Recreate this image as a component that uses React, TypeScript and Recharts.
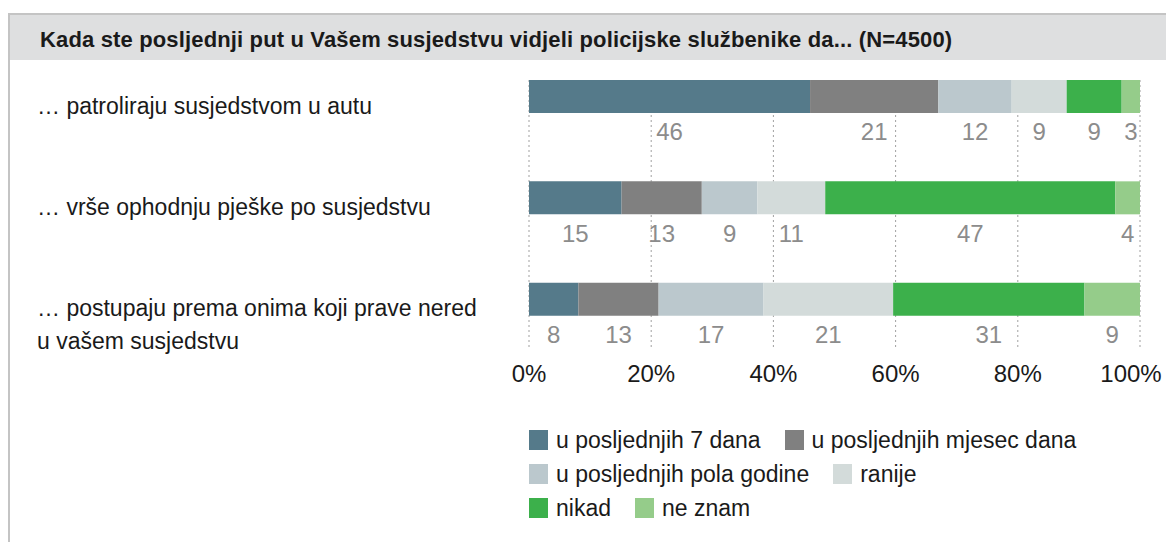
import React from "react";
import { BarChart, Bar, XAxis, YAxis, CartesianGrid, LabelList } from "recharts";

const categories = [
  "… patroliraju susjedstvom u autu",
  "… vrše ophodnju pješke po susjedstvu",
  "… postupaju prema onima koji prave nered\nu vašem susjedstvu",
];

const seriesNames = [
  "u posljednjih 7 dana",
  "u posljednjih mjesec dana",
  "u posljednjih pola godine",
  "ranije",
  "nikad",
  "ne znam",
];
const seriesColors = ["#557a8a", "#808080", "#bbc8cd", "#d3dbda", "#3cb04b", "#95cc8a"];

const sedamDana = [46, 15, 8];
const mjesecDana = [21, 13, 13];
const polaGodine = [12, 9, 17];
const ranije = [9, 11, 21];
const nikad = [9, 47, 31];
const neZnam = [3, 4, 9];

const xTicks = [0, 0.2, 0.4, 0.6, 0.8, 1];

const seriesValues = [sedamDana, mjesecDana, polaGodine, ranije, nikad, neZnam];
const keys = ["s0", "s1", "s2", "s3", "s4", "s5"];

const data = categories.map((name, i) => {
  const row: any = { name };
  keys.forEach((k, j) => (row[k] = seriesValues[j][i]));
  return row;
});

const FONT = "'Liberation Sans', Arial, sans-serif";

const CategoryTick = (props: any) => {
  const { y, payload } = props;
  const lines = String(payload.value).split("\n");
  return (
    <text x={37} y={y + 11} fontSize={23} fill="#1a1a1a" fontFamily={FONT} dominantBaseline="middle">
      {lines.map((l, i) => (
        <tspan key={i} x={37} dy={i === 0 ? 0 : 33}>
          {l}
        </tspan>
      ))}
    </text>
  );
};

const PercentTick = (props: any) => {
  const { x, y, payload } = props;
  // keep the last label inside the frame
  const dx = payload.value === 1 ? -9 : 0;
  return (
    <text x={x + dx} y={y} dy="0.71em" textAnchor="middle" fontSize={24} fill="#1a1a1a" fontFamily={FONT}>
      {`${Math.round(payload.value * 100)}%`}
    </text>
  );
};

const ValueLabel = (props: any) => {
  const { x, y, width, height, value } = props;
  return (
    <text
      x={x + width / 2}
      y={y + height + 21}
      textAnchor="middle"
      dominantBaseline="middle"
      fontSize={24}
      fill="#8c8c8c"
      fontFamily={FONT}
    >
      {value}
    </text>
  );
};

const GridLine = (props: any) => {
  const { x1, y1, x2, y2 } = props;
  return <line x1={x1} x2={x2} y1={y1 + 34} y2={y2} stroke="#a0a0a0" strokeDasharray="2 3" strokeWidth={1} />;
};

export default function App() {
  return (
    <div
      style={{
        position: "absolute",
        left: 0,
        top: 0,
        width: 1166,
        height: 542,
        overflow: "hidden",
        background: "#fff",
        fontFamily: FONT,
      }}
    >
      <div
        style={{
          position: "absolute",
          left: 8,
          top: 13,
          width: 1200,
          height: 600,
          borderLeft: "2px solid #c4c4c4",
          borderTop: "2px solid #c4c4c4",
        }}
      />
      <div
        style={{
          position: "absolute",
          left: 10,
          top: 15,
          width: 1200,
          height: 45,
          background: "#dedfe0",
        }}
      />
      <div
        style={{
          position: "absolute",
          left: 40,
          top: 17,
          height: 45,
          lineHeight: "45px",
          fontSize: 22,
          fontWeight: "bold",
          color: "#1a1a1a",
          whiteSpace: "nowrap",
          letterSpacing: 0.15,
        }}
      >
        Kada ste posljednji put u Vašem susjedstvu vidjeli policijske službenike da... (N=4500)
      </div>

      <div style={{ position: "absolute", left: 0, top: 0 }}>
        <BarChart
          width={1166}
          height={390}
          data={data}
          layout="vertical"
          stackOffset="expand"
          margin={{ top: 46, right: 26, bottom: 0, left: 0 }}
        >
          <CartesianGrid horizontal={false} vertical={GridLine} />
          <XAxis
            type="number"
            domain={[0, 1]}
            ticks={xTicks}
            axisLine={false}
            tickLine={false}
            height={40}
            tickMargin={9}
            tick={<PercentTick />}
          />
          <YAxis type="category" dataKey="name" width={529} axisLine={false} tickLine={false} tick={<CategoryTick />} />
          {keys.map((k, j) => (
            <Bar key={k} dataKey={k} stackId="a" fill={seriesColors[j]} barSize={33} isAnimationActive={false}>
              <LabelList dataKey={k} content={<ValueLabel />} />
            </Bar>
          ))}
        </BarChart>
      </div>

      <div style={{ position: "absolute", left: 529, top: 423, width: 630 }}>
        {[0, 2, 4].map((start) => (
          <div key={start} style={{ display: "flex", height: 34, alignItems: "center" }}>
            {seriesNames.slice(start, start + 2).map((n, i) => (
              <div key={n} style={{ display: "flex", alignItems: "center", marginRight: 24 }}>
                <span
                  style={{
                    display: "inline-block",
                    width: 19,
                    height: 20,
                    background: seriesColors[start + i],
                    marginRight: 8,
                  }}
                />
                <span style={{ fontSize: 23, color: "#1a1a1a" }}>{n}</span>
              </div>
            ))}
          </div>
        ))}
      </div>
    </div>
  );
}
